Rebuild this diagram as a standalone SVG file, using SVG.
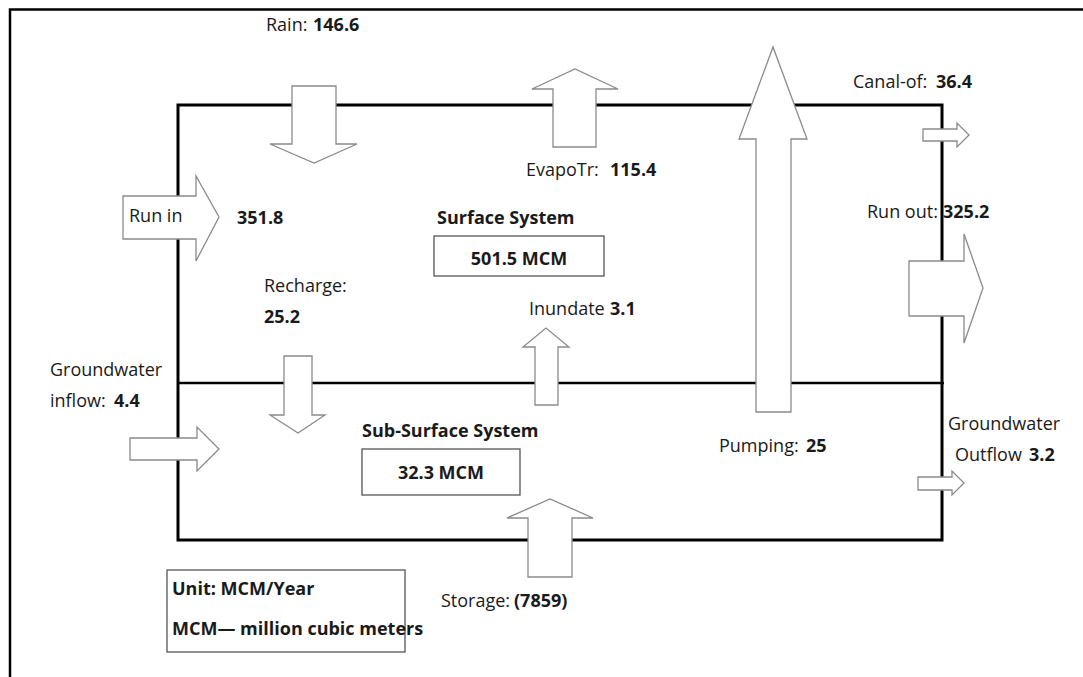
<svg xmlns="http://www.w3.org/2000/svg" width="1083" height="677" viewBox="0 0 1083 677">
<style>
text{font-family:"Open Sans","Noto Sans","Liberation Sans",sans-serif;fill:#1a1a1a;font-size:18px}
.b{font-weight:bold}
.flow{fill:#fff;stroke:#8a8a8a;stroke-width:1.3;stroke-linejoin:miter}
.sys{fill:none;stroke:#000;stroke-width:3}
.box{fill:#fff;stroke:#555;stroke-width:1.3}
</style>
<rect width="1083" height="677" fill="#fff"/>
<g id="frame"><rect x="10" y="9.5" width="1100" height="700" fill="none" stroke="#000" stroke-width="2.5"/></g>
<g id="system-boundary">
<rect class="sys" x="178" y="105" width="764" height="435"/>
<line x1="178" y1="383" x2="944" y2="383" stroke="#000" stroke-width="2.5"/>
</g>
<g id="connectors">
<path id="rain" class="flow" d="M292,86H336V144H357L314,163L270,144H292Z"/>
<path id="run-in" class="flow" d="M123,196H196V176L219,217L196,261V239H123Z"/>
<path id="evapotr" class="flow" d="M553,147V89H532L575,69L618,89H596V147Z"/>
<path id="pumping" class="flow" d="M756,412V139H739L773,47L807,139H791V412Z"/>
<path id="canal-of" class="flow" d="M923,129H957V123L969,135L957,147V141H923Z"/>
<path id="run-out" class="flow" d="M909,261H964V234L983,288L964,343V316H909Z"/>
<path id="recharge" class="flow" d="M284,356H312V415H325L298,433L270,415H284Z"/>
<path id="gw-inflow" class="flow" d="M130,438H197V427L219,449L197,471V460H130Z"/>
<path id="inundate" class="flow" d="M535,405V347H523L546,328L569,347H558V405Z"/>
<path id="storage" class="flow" d="M528,577V518H507L550,499L593,518H572V577Z"/>
<path id="gw-outflow" class="flow" d="M918,477H952V471L964,483L952,495V490H918Z"/>
</g>
<g id="labels">
<text x="266" y="31">Rain:<tspan class="b" x="313">146.6</tspan></text>
<text x="526" y="176">EvapoTr:<tspan class="b" x="610">115.4</tspan></text>
<text x="853" y="88">Canal-of:<tspan class="b" x="936">36.4</tspan></text>
<text x="867" y="218">Run out:<tspan class="b" x="943">325.2</tspan></text>
<text x="129" y="222">Run in</text>
<text class="b" x="237" y="224">351.8</text>
<text x="264" y="292">Recharge:</text>
<text class="b" x="264" y="323">25.2</text>
<text x="529" y="315">Inundate<tspan class="b" x="610">3.1</tspan></text>
<text x="50" y="376">Groundwater</text>
<text x="50" y="407">inflow:<tspan class="b" x="114">4.4</tspan></text>
<text x="719" y="452">Pumping:<tspan class="b" x="806">25</tspan></text>
<text x="948" y="430">Groundwater</text>
<text x="955" y="461">Outflow<tspan class="b" x="1029">3.2</tspan></text>
<text x="441" y="607">Storage:<tspan class="b" x="514">(7859)</tspan></text>
</g>
<g id="surface-system">
<text class="b" x="437" y="224" font-size="17">Surface System</text>
<rect class="box" x="434" y="236" width="170" height="40"/>
<text class="b" x="519" y="265" font-size="22" text-anchor="middle">501.5 MCM</text>
</g>
<g id="sub-surface-system">
<text class="b" x="362" y="437" font-size="17">Sub-Surface System</text>
<rect class="box" x="362" y="449" width="158" height="46"/>
<text class="b" x="441" y="479" font-size="22" text-anchor="middle">32.3 MCM</text>
</g>
<g id="legend">
<rect class="box" x="167" y="570" width="238" height="82" stroke="#333"/>
<text class="b" x="172" y="595" font-size="16">Unit: MCM/Year</text>
<text class="b" x="172" y="635" font-size="16">MCM— million cubic meters</text>
</g>
</svg>
